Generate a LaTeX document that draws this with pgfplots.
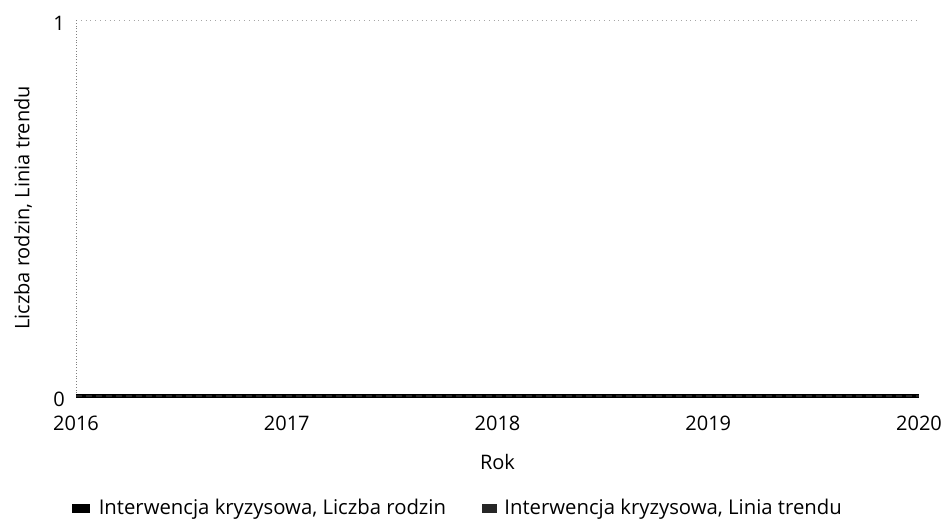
\documentclass[border=0pt]{standalone}
\usepackage{fontspec}
\setmainfont{Open Sans}
\usepackage{pgfplots}
\pgfplotsset{compat=1.18}

\begin{document}
\begin{tikzpicture}
\begin{axis}[
    at={(0,0)}, anchor=south west,
    scale only axis,
    width=421.5pt, height=188pt,
    xmin=2016, xmax=2020,
    ymin=0, ymax=1,
    xtick={2016,2017,2018,2019,2020},
    ytick={0,1},
    major tick length=0pt,
    font=\fontsize{10}{12}\selectfont,
    /pgf/number format/assume math mode=true,
    /pgf/number format/1000 sep={},
    axis x line*=bottom,
    axis y line*=left,
    x axis line style={draw=none},
    y axis line style={-, gray, densely dotted},
    ymajorgrids,
    grid style={gray!70, dotted},
    xticklabel style={yshift=-6.5pt},
    yticklabel style={xshift=-2pt, yshift=-1.5pt},
    xlabel={Rok},
    ylabel={Liczba rodzin, Linia trendu},
    xlabel style={at={(0.5,0)}, anchor=center, yshift=-33pt},
    ylabel style={at={(0,0.5)}, anchor=center, yshift=26.5pt},
    legend columns=2,
    legend style={at={(0,0)}, anchor=west, xshift=-5pt, yshift=-56pt,
        draw=none, fill=none, font=\fontsize{10.15}{12}\selectfont,
        /tikz/every even column/.append style={column sep=16pt}},
    legend cell align=left,
    clip=false,
]
\addplot[black, line width=2.4pt, forget plot] coordinates {
    (2016,0) (2017,0) (2018,0) (2019,0) (2020,0)
};
\addlegendimage{legend image code/.code={
    \fill[black] (0pt,-2pt) rectangle (8.5pt,2pt);
    \path[draw=none, fill=none] (0pt,0pt) -- (11pt,0pt);}}
\addlegendentry{Interwencja kryzysowa, Liczba rodzin}
\addplot[black!85, line width=0.8pt, densely dashed, forget plot] coordinates {
    (2016,0) (2017,0) (2018,0) (2019,0) (2020,0)
};
\addlegendimage{legend image code/.code={
    \fill[black!85] (0pt,-2pt) rectangle (7pt,2pt);
    \path[draw=none, fill=none] (0pt,0pt) -- (9pt,0pt);}}
\addlegendentry{Interwencja kryzysowa, Linia trendu}
\end{axis}
\pgfresetboundingbox
\path[use as bounding box] (-38pt,-62.5pt) rectangle (434pt,198pt);
\end{tikzpicture}
\end{document}
